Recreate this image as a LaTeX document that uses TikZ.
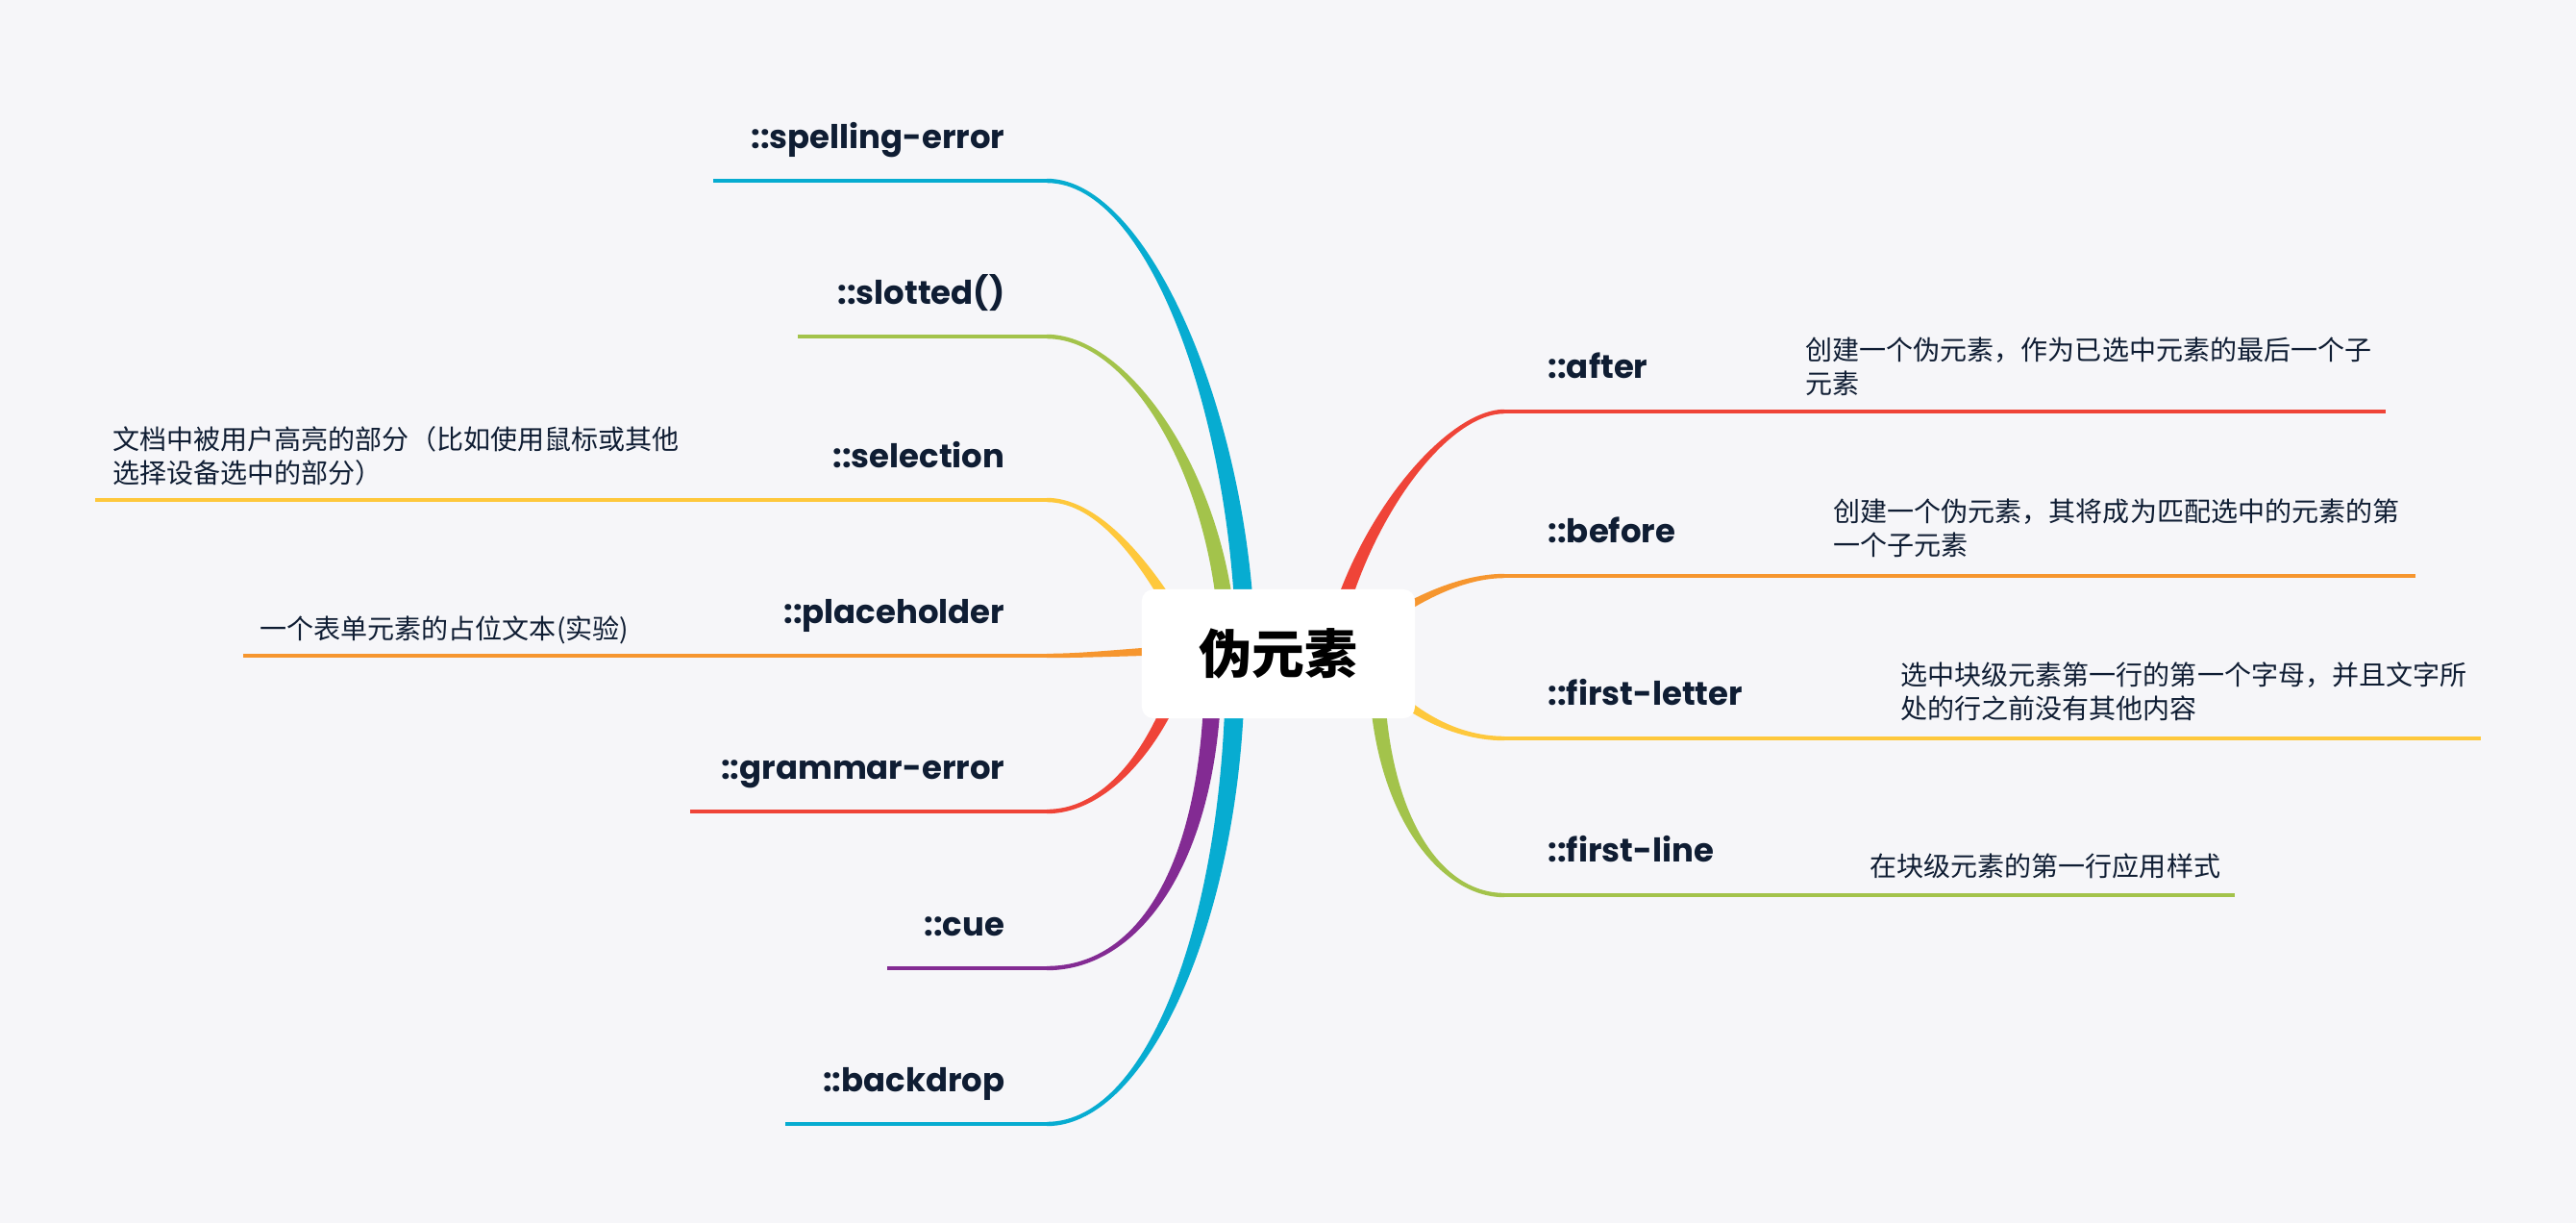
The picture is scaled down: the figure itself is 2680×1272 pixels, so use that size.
\documentclass[tikz,border=0pt]{standalone}
\usepackage{fontspec}
\newfontfamily\cjk{Noto Sans CJK SC}
\newfontfamily\lblfont{Poppins}
\usetikzlibrary{calc,backgrounds}
\definecolor{paper}{HTML}{F6F6F9}
\definecolor{ink}{HTML}{0F1D33}
\definecolor{cyanb}{HTML}{07ACD1}
\definecolor{greenb}{HTML}{A3C34B}
\definecolor{yellowb}{HTML}{FEC83C}
\definecolor{orangeb}{HTML}{F6962F}
\definecolor{redb}{HTML}{EF4438}
\definecolor{purpleb}{HTML}{832B93}
% tapered branch: colour, end, root, out length, in vector, root offset
\newcommand{\twig}[6]{\fill[#1] ($(#2)+(0,-2.2)$) .. controls +(#4,0) and +#5 .. ($(#3)+#6$) -- ($(#3)-#6$) .. controls +#5 and +(#4,0) .. ($(#2)+(0,2.2)$) -- cycle;}
\begin{document}
\begin{tikzpicture}[x=0.01cm, y=-0.01cm,
	lbl/.style={font=\lblfont\bfseries\fontsize{9.65pt}{12pt}\selectfont, text=ink, inner sep=0pt},
	desc/.style={font=\cjk\fontsize{7.97pt}{9.96pt}\selectfont, text=ink, inner sep=0pt, align=left},
	uline/.style={line width=0.044cm}]
	\node (core) at (1330,680) [rectangle, rounded corners=0.12cm, fill=white, minimum width=2.84cm, minimum height=1.34cm, font=\cjk\bfseries\fontsize{15.6pt}{18pt}\selectfont] {伪元素};
	% left labels
	\node (l1) at (1046,154)  [lbl, anchor=base east] {::spelling-error};
	\node (l2) at (1046,316)  [lbl, anchor=base east] {::slotted()};
	\node (l3) at (1046,486)  [lbl, anchor=base east] {::selection};
	\node (l4) at (1046,648)  [lbl, anchor=base east] {::placeholder};
	\node (l5) at (1046,810)  [lbl, anchor=base east] {::grammar-error};
	\node (l6) at (1046,973)  [lbl, anchor=base east] {::cue};
	\node (l7) at (1046,1135) [lbl, anchor=base east] {::backdrop};
	% right labels
	\node (l8) at (1610,393)  [lbl, anchor=base west] {::after};
	\node (l9) at (1610,564)  [lbl, anchor=base west] {::before};
	\node (l10) at (1610,733) [lbl, anchor=base west] {::first-letter};
	\node (l11) at (1610,896) [lbl, anchor=base west] {::first-line};
	% notes
	\node (d3) at (117,443)   [desc, anchor=north west] {文档中被用户高亮的部分（比如使用鼠标或其他\\选择设备选中的部分）};
	\node (d4) at (270,640)   [desc, anchor=north west] {一个表单元素的占位文本(实验)};
	\node (d8) at (1878,350)  [desc, anchor=north west] {创建一个伪元素，作为已选中元素的最后一个子\\元素};
	\node (d9) at (1907,518)  [desc, anchor=north west] {创建一个伪元素，其将成为匹配选中的元素的第\\一个子元素};
	\node (d10) at (1977,688) [desc, anchor=north west] {选中块级元素第一行的第一个字母，并且文字所\\处的行之前没有其他内容};
	\node (d11) at (1945,887) [desc, anchor=north west] {在块级元素的第一行应用样式};
	% branch ends
	\coordinate (e1) at (1089,188);  \coordinate (s1) at (742,188);
	\coordinate (e2) at (1089,350);  \coordinate (s2) at (830,350);
	\coordinate (e3) at (1089,520);  \coordinate (s3) at (99,520);
	\coordinate (e4) at (1089,682);  \coordinate (s4) at (253,682);
	\coordinate (e5) at (1089,844);  \coordinate (s5) at (718,844);
	\coordinate (e6) at (1089,1007); \coordinate (s6) at (923,1007);
	\coordinate (e7) at (1089,1169); \coordinate (s7) at (817,1169);
	\coordinate (e8) at (1565,428);  \coordinate (s8) at (2482,428);
	\coordinate (e9) at (1565,599);  \coordinate (s9) at (2513,599);
	\coordinate (e10) at (1565,768); \coordinate (s10) at (2581,768);
	\coordinate (e11) at (1565,931); \coordinate (s11) at (2325,931);
	% roots under the centre box
	\coordinate (r1) at ($(core)+(-34,10)$);
	\coordinate (r2) at ($(core)+(-52,10)$);
	\coordinate (r3) at ($(core)+(-80,10)$);
	\coordinate (r4) at ($(core)+(-80,-4)$);
	\coordinate (r5) at ($(core)+(-98,10)$);
	\coordinate (r6) at ($(core)+(-68,10)$);
	\coordinate (r7) at ($(core)+(-45,10)$);
	\coordinate (r8) at ($(core)+(50,20)$);
	\coordinate (r9) at ($(core)+(90,-20)$);
	\coordinate (r10) at ($(core)+(90,10)$);
	\coordinate (r11) at ($(core)+(102,10)$);
	\begin{scope}[on background layer]
		\fill[paper] (0,0) rectangle (2680,1272);
		\twig{cyanb}{e1}{r1}{110}{(0,-240)}{(10,0)}
		\twig{greenb}{e2}{r2}{90}{(0,-180)}{(9,0)}
		\twig{yellowb}{e3}{r3}{70}{(-30,-60)}{(6.2,-3.1)}
		\twig{orangeb}{e4}{r4}{50}{(-50,0)}{(0,-5)}
		\twig{redb}{e5}{r5}{70}{(-20,70)}{(-6.7,-1.9)}
		\twig{purpleb}{e6}{r6}{100}{(0,200)}{(-9,0)}
		\twig{cyanb}{e7}{r7}{110}{(0,250)}{(-10,0)}
		\twig{redb}{e8}{r8}{-65}{(20,-140)}{(-7.9,-1.1)}
		\twig{orangeb}{e9}{r9}{-50}{(40,-30)}{(-3,-4)}
		\twig{yellowb}{e10}{r10}{-60}{(30,40)}{(4.8,-3.6)}
		\twig{greenb}{e11}{r11}{-70}{(0,150)}{(8,0)}
		\draw[uline, cyanb] (s1) -- (e1);
		\draw[uline, greenb] (s2) -- (e2);
		\draw[uline, yellowb] (s3) -- (e3);
		\draw[uline, orangeb] (s4) -- (e4);
		\draw[uline, redb] (s5) -- (e5);
		\draw[uline, purpleb] (s6) -- (e6);
		\draw[uline, cyanb] (s7) -- (e7);
		\draw[uline, redb] (e8) -- (s8);
		\draw[uline, orangeb] (e9) -- (s9);
		\draw[uline, yellowb] (e10) -- (s10);
		\draw[uline, greenb] (e11) -- (s11);
	\end{scope}
\end{tikzpicture}
\end{document}
